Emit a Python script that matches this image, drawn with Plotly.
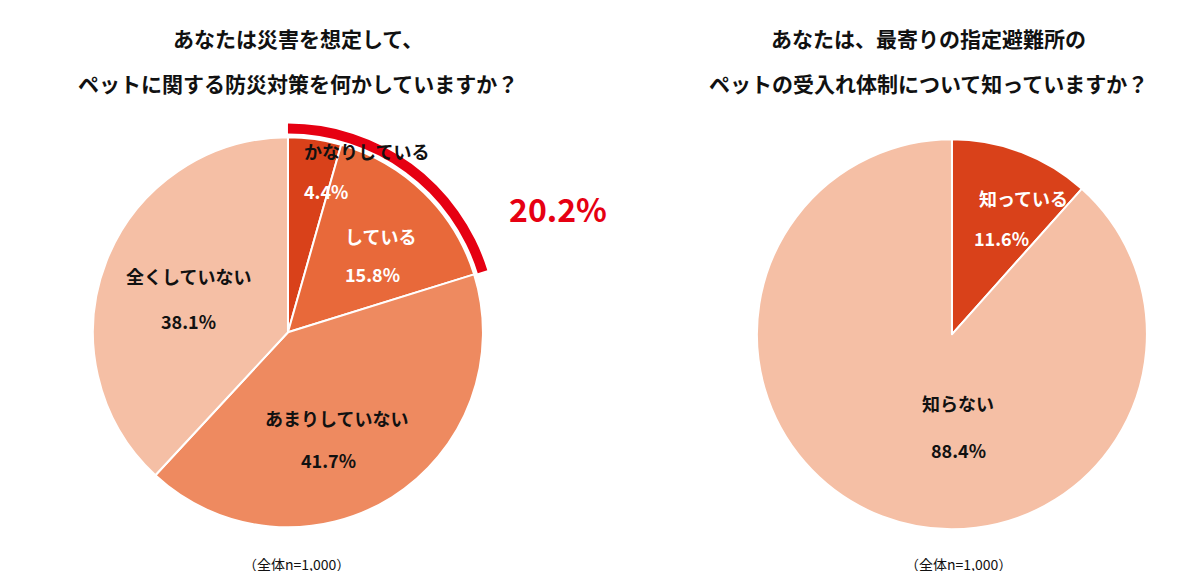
import plotly.graph_objects as go

left_labels = ["かなりしている", "している", "あまりしていない", "全くしていない"]
left_values = [4.4, 15.8, 41.7, 38.1]
left_colors = ["#D9411A", "#E8693A", "#EE8A60", "#F5BFA5"]

right_labels = ["知っている", "知らない"]
right_values = [11.6, 88.4]
right_colors = ["#D9411A", "#F5BFA5"]

highlight_total = 20.2

FONT = "Noto Sans CJK JP"
DX, DY = -0.0067, 0.0135

def dom(x0, x1, y0, y1):
    return dict(x=[x0 + DX, x1 + DX], y=[y0 + DY, y1 + DY])

fig = go.Figure()

fig.add_trace(go.Pie(
    labels=left_labels, values=left_values, sort=False, direction="clockwise", rotation=0,
    marker=dict(colors=left_colors, line=dict(color="white", width=2)),
    textinfo="none", hoverinfo="label+percent",
    domain=dom(0.0775, 0.4025, 0.0771, 0.7601),
))
# red highlight ring for the "doing something" share
fig.add_trace(go.Pie(
    values=[highlight_total, 100 - highlight_total], sort=False, direction="clockwise", rotation=0,
    hole=0.952, marker=dict(colors=["#E60012", "rgba(0,0,0,0)"], line=dict(width=0)),
    textinfo="none", hoverinfo="skip",
    domain=dom(0.066, 0.414, 0.0526, 0.7846),
))
fig.add_trace(go.Pie(
    labels=right_labels, values=right_values, sort=False, direction="clockwise", rotation=0,
    marker=dict(colors=right_colors, line=dict(color="white", width=2)),
    textinfo="none", hoverinfo="label+percent",
    domain=dom(0.6308, 0.9558, 0.0735, 0.7565),
))

def label(x, y, text, size=18, color="#111"):
    fig.add_annotation(x=x / 1200, y=1 - y / 571, xref="paper", yref="paper", text=text,
                       xanchor="center", yanchor="middle", showarrow=False,
                       font=dict(family=FONT, size=size, color=color))

label(290, 30, "<b>あなたは災害を想定して、</b>", 21)
label(290, 75, "<b>ペットに関する防災対策を何かしていますか？</b>", 21)
label(920, 30, "<b>あなたは、最寄りの指定避難所の</b>", 21)
label(920, 75, "<b>ペットの受入れ体制について知っていますか？</b>", 21)

label(358, 143, "<b>かなりしている</b>")
label(318, 183, "<b>4.4%</b>", color="white")
label(372, 228, "<b>している</b>", color="white")
label(364, 266, "<b>15.8%</b>", color="white")
label(550, 200, "<b>20.2%</b>", 32, "#E60012")
label(180, 268, "<b>全くしていない</b>")
label(180, 313, "<b>38.1%</b>")
label(328, 410, "<b>あまりしていない</b>")
label(320, 452, "<b>41.7%</b>")
label(1015, 190, "<b>知っている</b>", color="white")
label(993, 230, "<b>11.6%</b>", color="white")
label(950, 395, "<b>知らない</b>")
label(950, 442, "<b>88.4%</b>")
label(288, 556, "（全体n=1,000）", 14)
label(950, 556, "（全体n=1,000）", 14)

fig.update_layout(width=1200, height=571, margin=dict(l=0, r=0, t=0, b=0),
                  showlegend=False, paper_bgcolor="white", font=dict(family=FONT))
fig.write_html("out.html")
